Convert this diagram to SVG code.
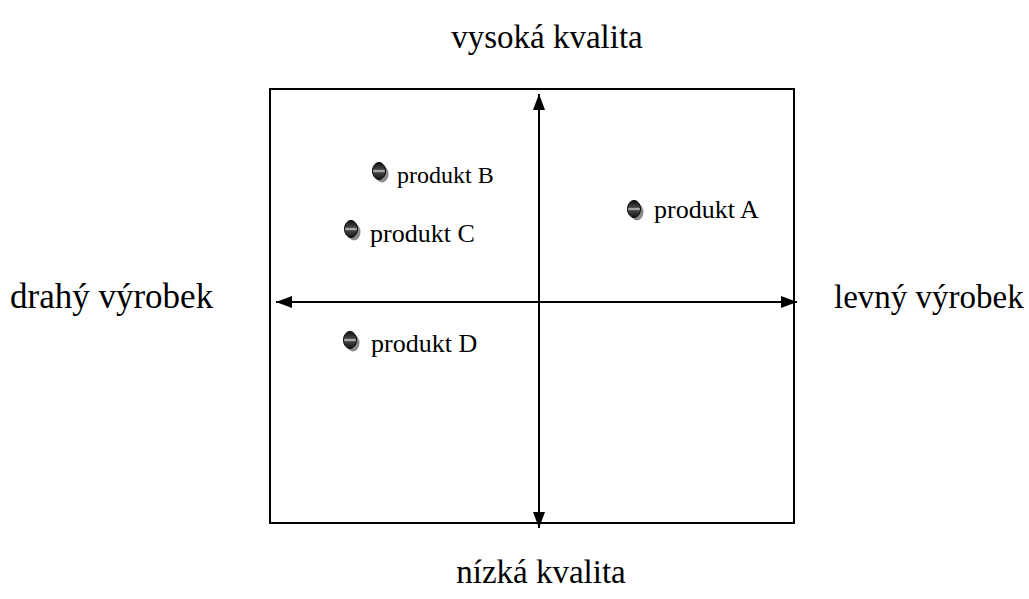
<svg xmlns="http://www.w3.org/2000/svg" width="1029" height="599" viewBox="0 0 1029 599">
<defs>
<style>
.lbl{font-family:"Liberation Serif","Times New Roman",serif;font-size:26px;fill:#000}
.ax{font-family:"Liberation Serif","Times New Roman",serif;font-size:33px;fill:#000}
.axis{stroke:#000;stroke-width:2;fill:none}
.sh{fill:#8a8a8a}
.dot{fill:url(#g);stroke:#000;stroke-width:1}
</style>
<linearGradient id="g" x1="0" y1="0" x2="0" y2="1">
<stop offset="0" stop-color="#111"/>
<stop offset="0.4" stop-color="#444"/>
<stop offset="0.5" stop-color="#ccc"/>
<stop offset="0.6" stop-color="#444"/>
<stop offset="1" stop-color="#111"/>
</linearGradient>
<marker id="ah" viewBox="0 0 16 12" refX="16" refY="6" markerWidth="8" markerHeight="6" orient="auto-start-reverse" markerUnits="strokeWidth">
<path d="M0,0 L16,6 L0,12 z" fill="#000"/>
</marker>
</defs>
<rect x="270" y="89" width="524" height="434" fill="#fff" stroke="#000" stroke-width="2"/>
<g id="connectors">
<line class="axis" x1="539" y1="94" x2="539" y2="528" marker-start="url(#ah)" marker-end="url(#ah)"/>
<line class="axis" x1="276" y1="302" x2="797" y2="302" marker-start="url(#ah)" marker-end="url(#ah)"/>
</g>
<g id="axis-top"><text class="ax" x="547" y="48" text-anchor="middle">vysoká kvalita</text></g>
<g id="axis-bottom"><text class="ax" x="541" y="583" text-anchor="middle">nízká kvalita</text></g>
<g id="axis-left"><text class="ax" x="10" y="308" style="font-size:35px">drahý výrobek</text></g>
<g id="axis-right"><text class="ax" x="834" y="308">levný výrobek</text></g>
<g id="produkt-A">
<ellipse class="sh" cx="637" cy="212" rx="6.5" ry="8.5"/>
<ellipse class="dot" cx="634" cy="209" rx="6.5" ry="8.5"/>
<text class="lbl" x="654" y="218">produkt A</text>
</g>
<g id="produkt-B">
<ellipse class="sh" cx="382" cy="174" rx="6.5" ry="8.5"/>
<ellipse class="dot" cx="379" cy="171" rx="6.5" ry="8.5"/>
<text class="lbl" x="397" y="183" style="font-size:24px">produkt B</text>
</g>
<g id="produkt-C">
<ellipse class="sh" cx="354" cy="232" rx="6.5" ry="8.5"/>
<ellipse class="dot" cx="351" cy="229" rx="6.5" ry="8.5"/>
<text class="lbl" x="370" y="242">produkt C</text>
</g>
<g id="produkt-D">
<ellipse class="sh" cx="353" cy="343" rx="6.5" ry="8.5"/>
<ellipse class="dot" cx="350" cy="340" rx="6.5" ry="8.5"/>
<text class="lbl" x="371" y="352">produkt D</text>
</g>
</svg>
